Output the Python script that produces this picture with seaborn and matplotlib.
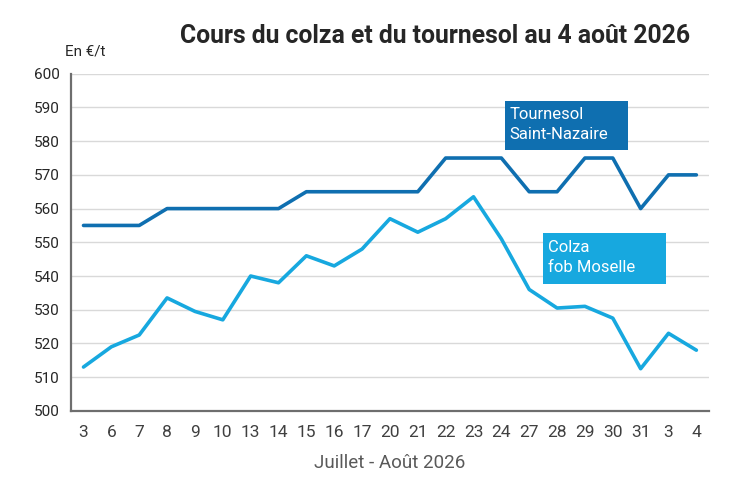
import numpy as np
import pandas as pd
import seaborn as sns
import matplotlib.pyplot as plt
from matplotlib.patches import Rectangle

days = ['3', '6', '7', '8', '9', '10', '13', '14', '15', '16', '17', '20', '21',
        '22', '23', '24', '27', '28', '29', '30', '31', '3', '4']
tournesol = [555, 555, 555, 560, 560, 560, 560, 560, 565, 565, 565, 565, 565,
             575, 575, 575, 565, 565, 575, 575, 560, 570, 570]
colza = [513, 519, 522.5, 533.5, 529.5, 527, 540, 538, 546, 543, 548, 557, 553,
         557, 563.5, 551, 536, 530.5, 531, 527.5, 512.5, 523, 518]

DARK = '#0f6fb0'
LIGHT = '#17a8df'

sns.set_theme(style='white')
plt.rcParams['font.family'] = ['Roboto', 'DejaVu Sans']

df = pd.DataFrame({'pos': np.arange(len(days)), 'Tournesol': tournesol, 'Colza': colza})

fig = plt.figure(figsize=(7.47, 4.95), dpi=100)
ax = fig.add_axes([0.095, 0.170, 0.854, 0.681])

sns.lineplot(data=df, x='pos', y='Tournesol', color=DARK, linewidth=2.6, ax=ax)
sns.lineplot(data=df, x='pos', y='Colza', color=LIGHT, linewidth=2.6, ax=ax)

ax.set_ylim(500, 600)
ax.set_yticks(range(500, 601, 10))
ax.set_xlim(-0.45, len(days) - 0.55)
ax.set_xticks(df['pos'])
ax.set_xticklabels(days)
ax.tick_params(axis='x', labelsize=12.5, colors='#404040', pad=10, length=0)
ax.tick_params(axis='y', labelsize=11, colors='#262626', pad=8, length=0)
ax.yaxis.grid(True, color='#d9d9d9', linewidth=1)
ax.set_axisbelow(True)
for side in ['top', 'right']:
    ax.spines[side].set_visible(False)
for side in ['left', 'bottom']:
    ax.spines[side].set_color('#6e6e6e')
    ax.spines[side].set_linewidth(1.6)

ax.set_ylabel('')
ax.set_xlabel('Juillet - Août 2026', fontsize=13.5, color='#595959', labelpad=10)

fig.text(0.583, 0.928, 'Cours du colza et du tournesol au 4 août 2026',
         ha='center', va='center', fontsize=17.8, fontweight='bold', color='#262626')
fig.text(0.087, 0.896, 'En €/t', ha='left', va='center', fontsize=11, color='#262626')

# label boxes
ax.add_patch(Rectangle((0.680, 0.7745), 0.193, 0.145, transform=ax.transAxes,
                       facecolor=DARK, edgecolor='none', zorder=3))
ax.add_patch(Rectangle((0.740, 0.377), 0.193, 0.151, transform=ax.transAxes,
                       facecolor=LIGHT, edgecolor='none', zorder=3))
ax.text(0.688, 0.902, 'Tournesol\nSaint-Nazaire', transform=ax.transAxes,
        ha='left', va='top', fontsize=12, color='white', linespacing=1.45, zorder=4)
ax.text(0.748, 0.508, 'Colza\nfob Moselle', transform=ax.transAxes,
        ha='left', va='top', fontsize=12, color='white', linespacing=1.45, zorder=4)

fig.savefig('out.png', dpi=100)
